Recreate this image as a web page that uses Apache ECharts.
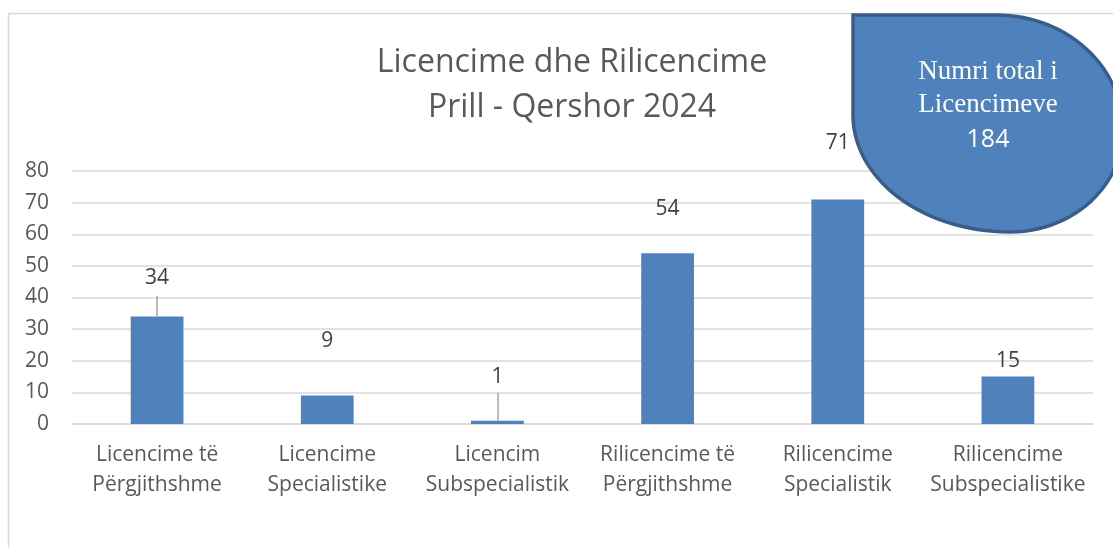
<!DOCTYPE html>
<html>
<head>
<meta charset="utf-8">
<script src="https://cdn.jsdelivr.net/npm/echarts@6/dist/echarts.min.js"></script>
<style>html,body{margin:0;padding:0;background:#fff;}#c{width:1113px;height:548px;}</style>
</head>
<body>
<div id="c"></div>
<script>
const categories = [
  'Licencime të\nPërgjithshme',
  'Licencime\nSpecialistike',
  'Licencim\nSubspecialistik',
  'Rilicencime të\nPërgjithshme',
  'Rilicencime\nSpecialistik',
  'Rilicencime\nSubspecialistike'
];
const values = [34, 9, 1, 54, 71, 15];
const yTicks = [0, 10, 20, 30, 40, 50, 60, 70, 80];
const titleLines = ['Licencime dhe Rilicencime', 'Prill - Qershor 2024'];
const totalLabel = ['Numri total i', 'Licencimeve'];
const totalValue = 184;

// label placement (style)
const labelGaps = [29, 46, 35, 35, 47, 7];
const leaderLines = [[0, 40.5], [2, 9.8]]; // [category index, value where leader ends]

// callout shape outline (pixel geometry of the decorative blob)
function arcPts(cx, cy, rx, ry, a0, a1, n) {
  const pts = [];
  for (let k = 0; k <= n; k++) {
    const a = (a0 + (a1 - a0) * k / n) * Math.PI / 180;
    pts.push([cx + rx * Math.cos(a), cy + ry * Math.sin(a)]);
  }
  return pts;
}
const blobPts = [[853, 15]]
  .concat(arcPts(997, 130, 126, 115, -90, 0, 30))
  .concat(arcPts(1010, 130, 113, 102, 0, 90, 30))
  .concat(arcPts(1010, 115, 157, 117, 90, 180, 30));

const chart = echarts.init(document.getElementById('c'));
const FONT = 'Open Sans';
chart.setOption({
  animation: false,
  backgroundColor: '#fff',
  title: {
    text: titleLines.join('\n'),
    left: 567, top: 35, textAlign: 'center',
    textStyle: { fontFamily: FONT, fontSize: 32, fontWeight: 'normal', color: '#595959', lineHeight: 45 }
  },
  grid: { left: 72, right: 20, top: 171, bottom: 124 },
  xAxis: {
    type: 'category', data: categories,
    axisLine: { lineStyle: { color: '#d9d9d9', width: 1.5 } },
    axisTick: { show: false },
    axisLabel: { color: '#595959', fontFamily: FONT, fontSize: 21, lineHeight: 30, margin: 16, interval: 0 }
  },
  yAxis: {
    type: 'value', min: yTicks[0], max: yTicks[yTicks.length - 1], interval: 10,
    axisLine: { show: false }, axisTick: { show: false },
    axisLabel: { color: '#595959', fontFamily: FONT, fontSize: 21, margin: 23 },
    splitLine: { lineStyle: { color: '#d9d9d9', width: 1.5 } }
  },
  series: [{
    type: 'bar',
    barWidth: '31%',
    itemStyle: { color: '#4f81bd' },
    data: values.map((v, i) => ({ value: v, label: { distance: labelGaps[i] } })),
    label: { show: true, position: 'top', color: '#404040', fontFamily: FONT, fontSize: 21, lineHeight: 18 },
    markLine: {
      silent: true, symbol: 'none',
      label: { show: false },
      lineStyle: { color: '#a6a6a6', width: 1.5, type: 'solid' },
      data: leaderLines.map(([i, end]) => [{ coord: [i, values[i]] }, { coord: [i, end] }])
    }
  }],
  graphic: [
    { type: 'rect', shape: { x: 8.5, y: 13.5, width: 1300, height: 700 }, style: { fill: 'none', stroke: '#d9d9d9', lineWidth: 1.5 }, z: 0, silent: true },
    { type: 'polygon', z: 100, shape: { points: blobPts },
      style: { fill: '#4f81bd', stroke: '#385d8a', lineWidth: 3.5 } },
    { type: 'text', z: 101,
      style: { text: totalLabel.join('\n'), x: 988, y: 55, align: 'center', fill: '#fff', font: '27px "Liberation Serif"', lineHeight: 33 } },
    { type: 'text', z: 101,
      style: { text: String(totalValue), x: 988, y: 140, align: 'center', verticalAlign: 'middle', fill: '#fff', font: '25px "Open Sans"' } }
  ]
});
</script>
</body>
</html>
